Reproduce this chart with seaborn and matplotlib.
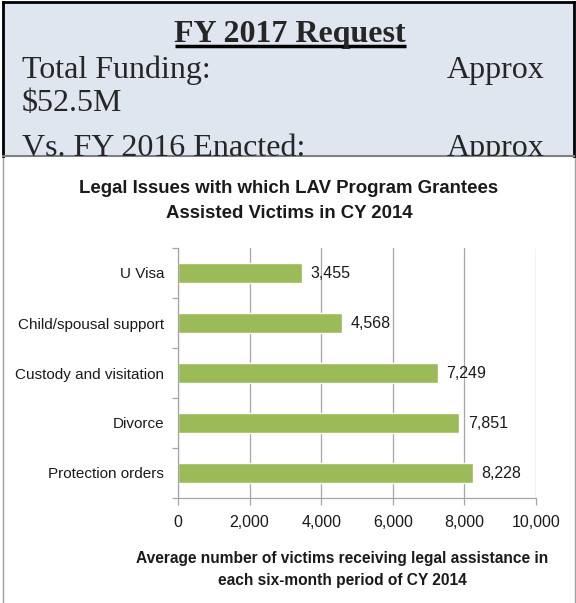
import matplotlib
matplotlib.use("Agg")
import matplotlib.pyplot as plt
import seaborn as sns
import pandas as pd
from matplotlib.ticker import FixedLocator, FuncFormatter

categories = ["U Visa", "Child/spousal support", "Custody and visitation", "Divorce", "Protection orders"]
values = [3455, 4568, 7249, 7851, 8228]
xticks = [0, 2000, 4000, 6000, 8000, 10000]

sns.set_theme(style="white")
plt.rcParams['font.family'] = ['Liberation Sans', 'DejaVu Sans']

W, H = 576, 603
fig = plt.figure(figsize=(W / 100, H / 100), dpi=100)
fig.patch.set_facecolor("white")

# outer gray frame of chart area
frame = fig.add_axes([3 / W, 0, 572 / W, 1 - 157 / H])
frame.set_xticks([]); frame.set_yticks([])
frame.set_facecolor("white")
for s in ["left", "right"]:
    frame.spines[s].set_color("#a0a0a0"); frame.spines[s].set_linewidth(1.0)
for s in ["top", "bottom"]:
    frame.spines[s].set_visible(False)

# header box
hdr = fig.add_axes([3 / W, 1 - 156 / H, 571 / W, 154 / H])
hdr.set_facecolor("#dfe6ef")
hdr.set_xticks([]); hdr.set_yticks([])
hdr.set_xlim(3, 574); hdr.set_ylim(156, 2)
for s in ["left", "right", "top"]:
    hdr.spines[s].set_color("black"); hdr.spines[s].set_linewidth(2)
hdr.spines["bottom"].set_color("#808080"); hdr.spines["bottom"].set_linewidth(1.5)
serif = ['Liberation Serif', 'DejaVu Serif']
hdr.text(290, 42, "FY 2017 Request", family=serif, fontsize=23, fontweight="bold",
         ha="center", va="baseline", clip_on=True)
hdr.plot([175, 406], [46.5, 46.5], color="black", lw=2.5, clip_on=True, solid_capstyle="butt")
hdr.text(22, 78, "Total Funding:", family=serif, fontsize=23, ha="left", va="baseline", clip_on=True)
hdr.text(447, 78, "Approx", family=serif, fontsize=23, ha="left", va="baseline", clip_on=True)
hdr.text(22, 111, "$52.5M", family=serif, fontsize=23, ha="left", va="baseline", clip_on=True)
hdr.text(22, 156, "Vs. FY 2016 Enacted:", family=serif, fontsize=23, ha="left", va="baseline", clip_on=True)
hdr.text(447, 156, "Approx", family=serif, fontsize=23, ha="left", va="baseline", clip_on=True)

# chart
left, right, top, bottom = 178, 536, 248, 498
ax = fig.add_axes([left / W, 1 - bottom / H, (right - left) / W, (bottom - top) / H])
df = pd.DataFrame({"cat": categories, "val": values})
sns.barplot(data=df, x="val", y="cat", orient="h", color="#9bbb59", saturation=1,
            width=0.4, ax=ax)
ax.set_facecolor("none")
ax.set_xlim(0, 10000)
ax.set_ylim(4.5, -0.5)
ax.xaxis.set_major_locator(FixedLocator(xticks))
ax.xaxis.set_major_formatter(FuncFormatter(lambda v, p: f"{int(v):,}"))
ax.xaxis.grid(True, color="#a6a6a6", lw=0.9)
ax.yaxis.grid(False)
ax.set_axisbelow(True)
for s in ["top", "right"]:
    ax.spines[s].set_visible(False)
for s in ["left", "bottom"]:
    ax.spines[s].set_color("#a6a6a6"); ax.spines[s].set_linewidth(0.9)
ax.tick_params(axis="x", which="major", direction="out", length=5, width=0.9,
               color="#a6a6a6", labelsize=11.5, pad=7, labelcolor="#1a1a1a", bottom=True)
ax.tick_params(axis="y", which="major", length=0, labelsize=11, pad=10, labelcolor="#1a1a1a")
ax.yaxis.set_minor_locator(FixedLocator([-0.5, 0.5, 1.5, 2.5, 3.5, 4.5]))
ax.tick_params(axis="y", which="minor", direction="out", length=4, width=0.9,
               color="#a6a6a6", left=True)
ax.set_xlabel(""); ax.set_ylabel("")
for c in ax.containers:
    ax.bar_label(c, labels=[f"{v:,}" for v in values], padding=6.5, fontsize=11.5, color="#1a1a1a")

fig.text(289 / W, 1 - 193 / H, "Legal Issues with which LAV Program Grantees",
         ha="center", va="baseline", fontsize=13.4, fontweight="bold", color="#1a1a1a")
fig.text(289 / W, 1 - 218 / H, "Assisted Victims in CY 2014",
         ha="center", va="baseline", fontsize=13.4, fontweight="bold", color="#1a1a1a")
fig.text(342 / W, 1 - 563 / H, "Average number of victims receiving legal assistance in",
         ha="center", va="baseline", fontsize=11.2, fontweight="bold", color="#1a1a1a")
fig.text(342 / W, 1 - 585 / H, "each six-month period of CY 2014",
         ha="center", va="baseline", fontsize=11.2, fontweight="bold", color="#1a1a1a")

fig.savefig("out.png", dpi=100)
